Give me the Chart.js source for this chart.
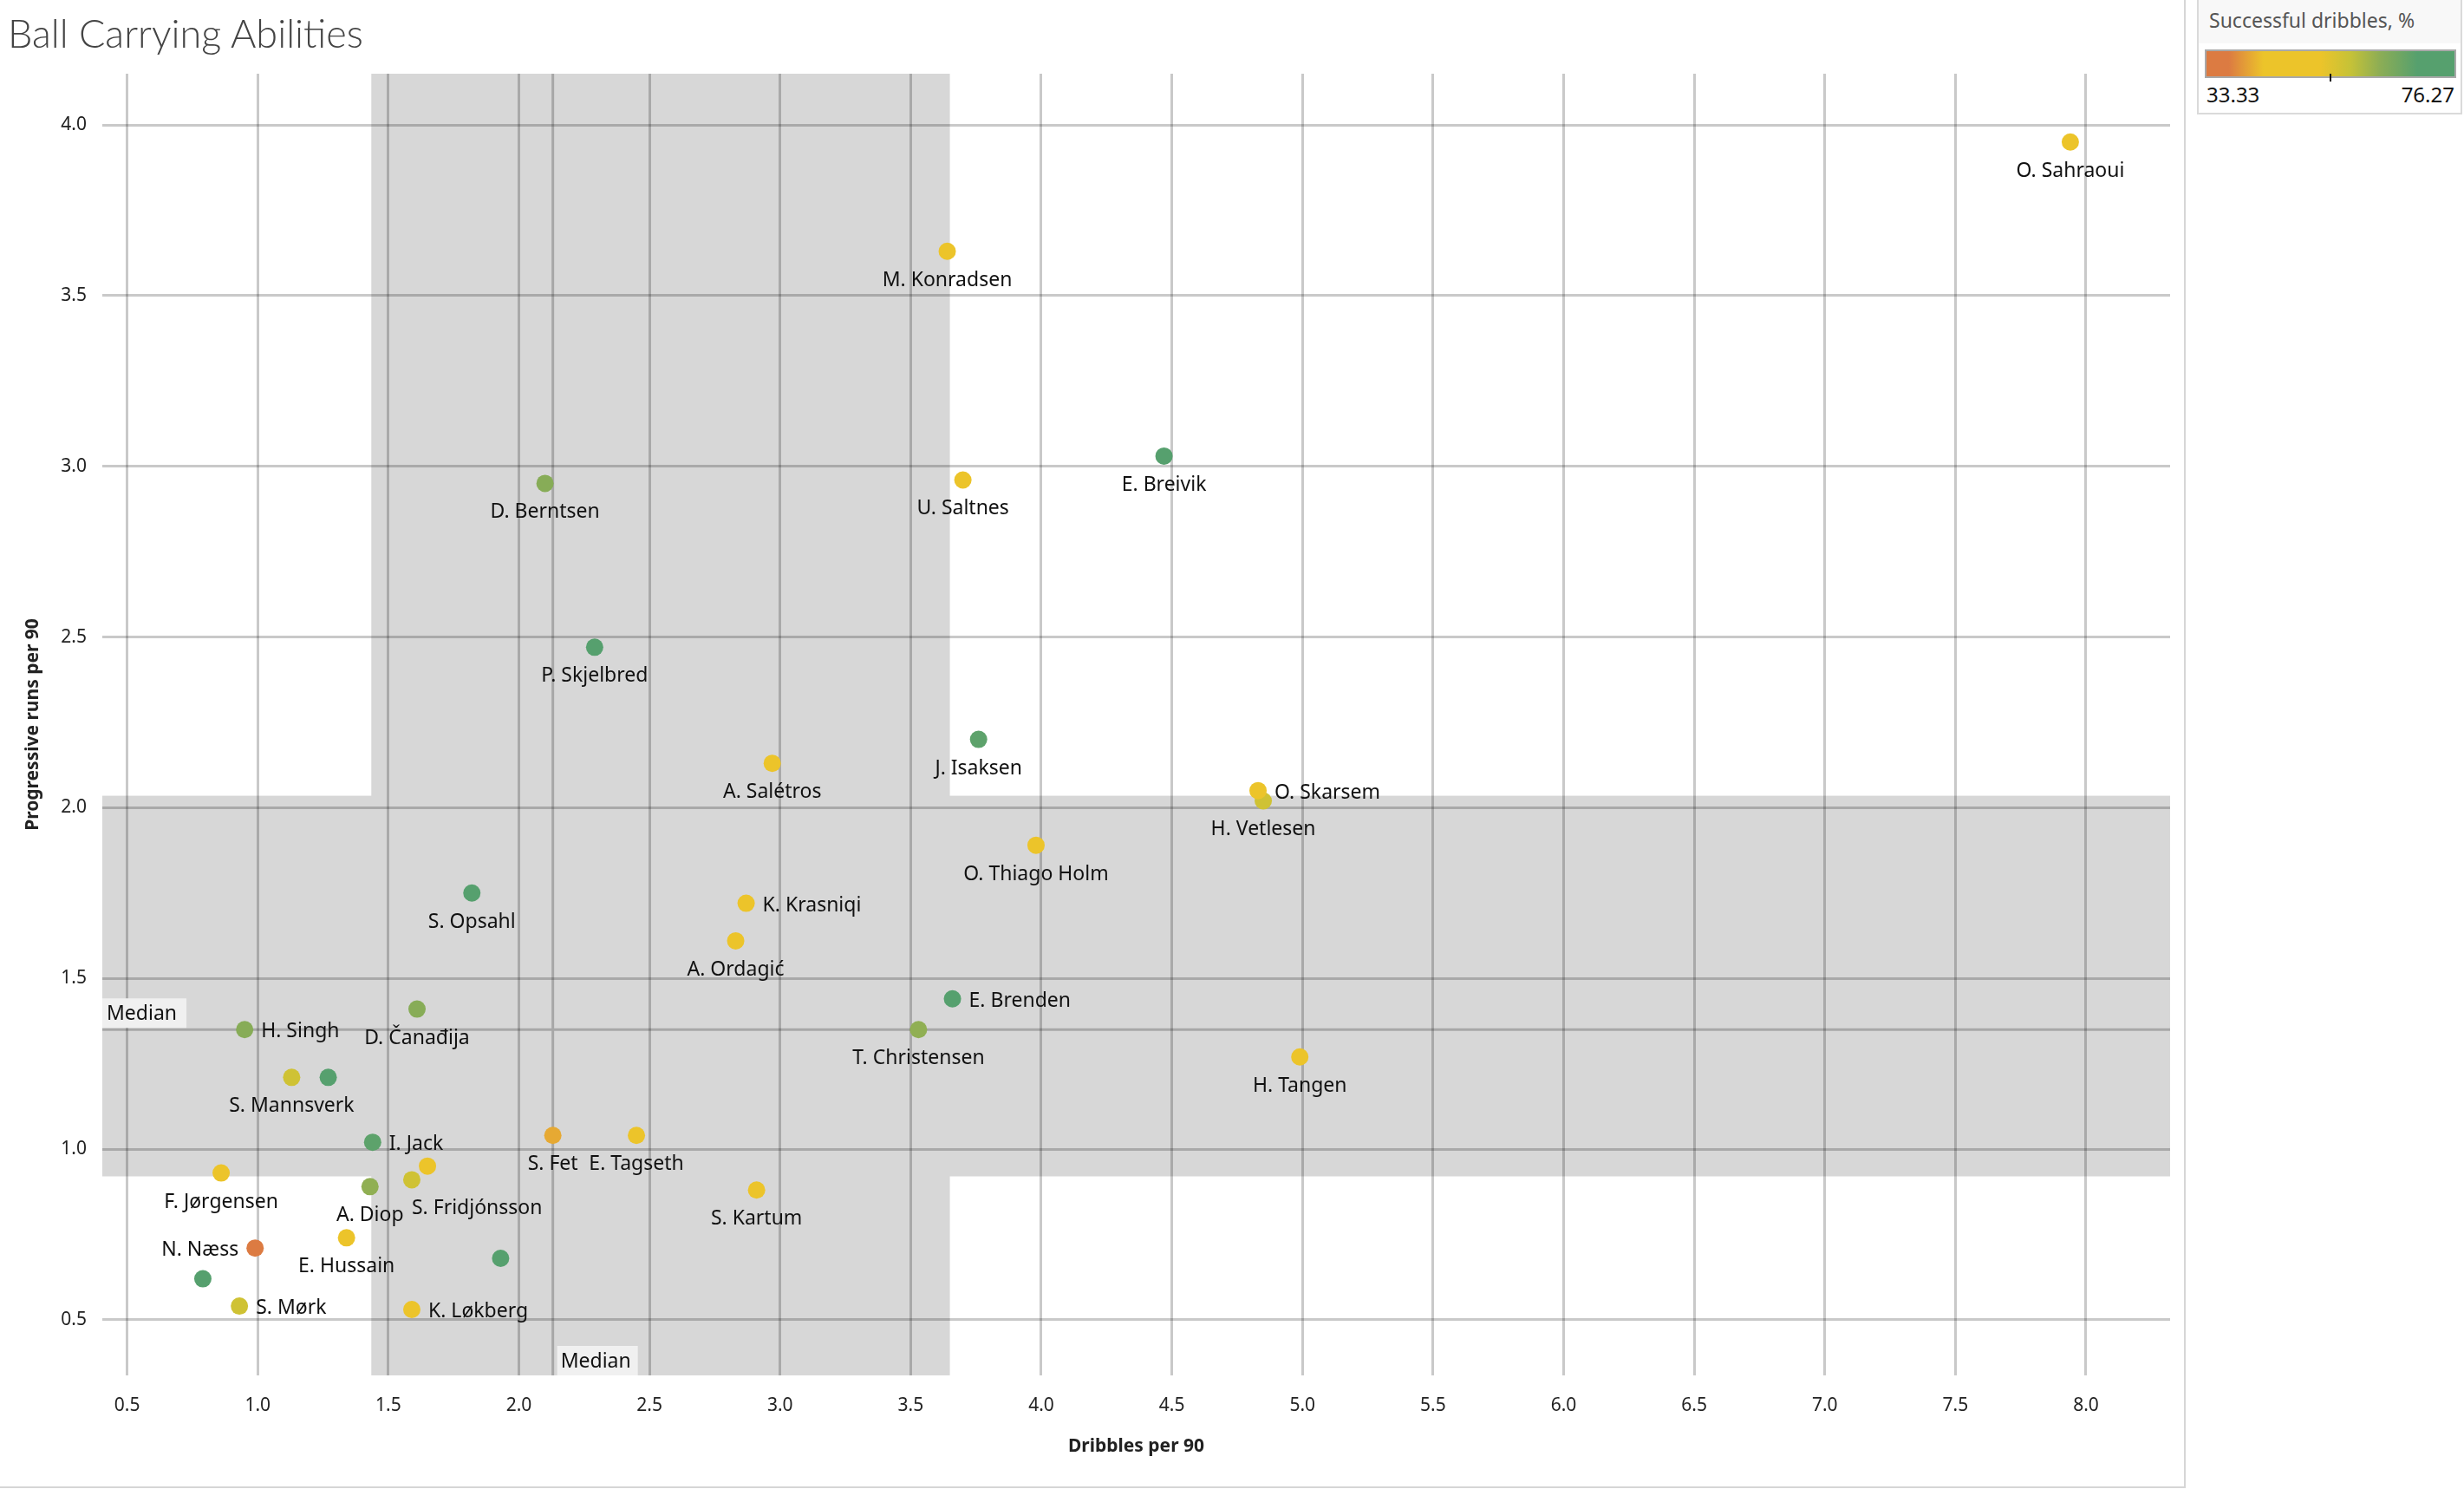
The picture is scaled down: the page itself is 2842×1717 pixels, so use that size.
<!DOCTYPE html>
<html>
<head>
<meta charset="utf-8">
<title>Ball Carrying Abilities</title>
<script src="https://cdn.jsdelivr.net/npm/chart.js@4.4.0/dist/chart.umd.min.js"></script>
<style>
  html, body { margin: 0; padding: 0; background: #fff; }
  body { width: 2842px; height: 1717px; position: relative; overflow: hidden; font-family: "Noto Sans", sans-serif; }
  #chart { position: absolute; left: 0; top: 0; }
  #title { position: absolute; left: 9px; top: 11px; font: 300 45px Lato, "Noto Sans", sans-serif; color: #444; white-space: nowrap; }
  #sheet-right { position: absolute; left: 2519px; top: 0; width: 2px; height: 1716px; background: #d6d6d6; }
  #sheet-bottom { position: absolute; left: 0; top: 1714px; width: 2521px; height: 2px; background: #d6d6d6; }
  #legend { position: absolute; left: 2534px; top: -2px; width: 306px; height: 134px; border: 2px solid #dadada; box-sizing: border-box; background: #fff; }
  #legend-head { position: absolute; left: 0; top: 0; right: 0; height: 50px; background: #f8f8f8; }
  #legend-title { position: absolute; left: 12px; top: 8px; font-size: 23px; line-height: 30px; color: #555; white-space: nowrap; }
  #legend-bar { position: absolute; left: 7px; top: 57px; width: 290px; height: 33px; border: 2px solid #a9a9a9; box-sizing: border-box; }
  #legend-tick { position: absolute; left: 151px; top: 85px; width: 2px; height: 9px; background: #111; }
  .legend-val { position: absolute; top: 94px; font-size: 24px; line-height: 30px; color: #111; }
  #legend-min { left: 9px; }
  #legend-max { right: 7px; }
</style>
</head>
<body>
<canvas id="chart" width="2842" height="1717"></canvas>
<div id="title">Ball Carrying Abilities</div>
<div id="sheet-right"></div>
<div id="sheet-bottom"></div>
<div id="legend">
  <div id="legend-head"></div>
  <div id="legend-title">Successful dribbles, %</div>
  <div id="legend-bar"></div>
  <div id="legend-tick"></div>
  <div class="legend-val" id="legend-min"></div>
  <div class="legend-val" id="legend-max"></div>
</div>
<script>
// data (null name = point without a label)
const players = [
  "O. Sahraoui", "M. Konradsen", "E. Breivik", "U. Saltnes", "D. Berntsen",
  "P. Skjelbred", "J. Isaksen", "A. Salétros", "H. Vetlesen", "O. Skarsem",
  "O. Thiago Holm", "S. Opsahl", "K. Krasniqi", "A. Ordagić", "E. Brenden",
  "D. Čanađija", "T. Christensen", "H. Singh", "H. Tangen", "S. Mannsverk",
  null, "I. Jack", "S. Fet", "E. Tagseth", "F. Jørgensen",
  "A. Diop", "S. Fridjónsson", null, "S. Kartum", "E. Hussain",
  "N. Næss", null, null, "S. Mørk", "K. Løkberg"
];
const dribbles = [
  7.94, 3.64, 4.47, 3.70, 2.10,
  2.29, 3.76, 2.97, 4.85, 4.83,
  3.98, 1.82, 2.87, 2.83, 3.66,
  1.61, 3.53, 0.95, 4.99, 1.13,
  1.27, 1.44, 2.13, 2.45, 0.86,
  1.43, 1.59, 1.65, 2.91, 1.34,
  0.99, 1.93, 0.79, 0.93, 1.59
];
const progRuns = [
  3.95, 3.63, 3.03, 2.96, 2.95,
  2.47, 2.20, 2.13, 2.02, 2.05,
  1.89, 1.75, 1.72, 1.61, 1.44,
  1.41, 1.35, 1.35, 1.27, 1.21,
  1.21, 1.02, 1.04, 1.04, 0.93,
  0.89, 0.91, 0.95, 0.88, 0.74,
  0.71, 0.68, 0.62, 0.54, 0.53
];
const successPct = [
  47, 48, 74, 47, 64,
  72, 69, 48, 57, 46,
  47, 74, 47, 48, 72,
  64, 63, 64, 47, 57,
  76.27, 69, 41, 46, 45,
  63, 57, 47, 47, 46,
  33.33, 73, 75, 57, 46
];
const colorRange = [33.33, 76.27];
const xTicks = [0.5, 1.0, 1.5, 2.0, 2.5, 3.0, 3.5, 4.0, 4.5, 5.0, 5.5, 6.0, 6.5, 7.0, 7.5, 8.0];
const yTicks = [0.5, 1.0, 1.5, 2.0, 2.5, 3.0, 3.5, 4.0];

// label placement (default: centred below the mark)
const labelPlace = {
  "H. Singh": "right", "I. Jack": "right", "K. Krasniqi": "right", "E. Brenden": "right",
  "O. Skarsem": "right", "K. Løkberg": "right", "S. Mørk": "right",
  "N. Næss": "left", "S. Fridjónsson": "belowLeft"
};

const colorStops = [
  [0, '#dc7b42'], [0.09, '#dc7b42'], [0.23, '#ecc42a'], [0.46, '#ecc42a'],
  [0.58, '#c6c237'], [0.70, '#8cad55'], [0.85, '#56a06e'], [1, '#56a06e']
];

function hexToRgb(h) {
  return [parseInt(h.slice(1, 3), 16), parseInt(h.slice(3, 5), 16), parseInt(h.slice(5, 7), 16)];
}
function pctColor(v) {
  const t = Math.min(1, Math.max(0, (v - colorRange[0]) / (colorRange[1] - colorRange[0])));
  for (let i = 1; i < colorStops.length; i++) {
    if (t <= colorStops[i][0]) {
      const [t0, c0] = colorStops[i - 1], [t1, c1] = colorStops[i];
      const f = t1 === t0 ? 0 : (t - t0) / (t1 - t0);
      const a = hexToRgb(c0), b = hexToRgb(c1);
      return 'rgb(' + a.map((c, k) => Math.round(c + (b[k] - c) * f)).join(',') + ')';
    }
  }
  return colorStops[colorStops.length - 1][1];
}
function percentile(arr, p) {
  const s = [...arr].sort((a, b) => a - b);
  const pos = p * (s.length - 1);
  const lo = Math.floor(pos), hi = Math.ceil(pos);
  return s[lo] + (s[hi] - s[lo]) * (pos - lo);
}

const xBand = [percentile(dribbles, 0.25), percentile(dribbles, 0.75)];
const yBand = [percentile(progRuns, 0.25), percentile(progRuns, 0.75)];
const xMedian = percentile(dribbles, 0.5);
const yMedian = percentile(progRuns, 0.5);

// legend
document.getElementById('legend-bar').style.background =
  'linear-gradient(to right, ' + colorStops.map(s => s[1] + ' ' + (s[0] * 100) + '%').join(', ') + ')';
document.getElementById('legend-min').textContent = colorRange[0].toFixed(2);
document.getElementById('legend-max').textContent = colorRange[1].toFixed(2);

const bandsPlugin = {
  id: 'bands',
  beforeDraw(chart) {
    const {ctx, chartArea: a, scales: {x, y}} = chart;
    ctx.save();
    ctx.fillStyle = '#d7d7d7';
    const x1 = x.getPixelForValue(xBand[0]), x2 = x.getPixelForValue(xBand[1]);
    ctx.fillRect(x1, a.top, x2 - x1, a.bottom - a.top);
    const y1 = y.getPixelForValue(yBand[1]), y2 = y.getPixelForValue(yBand[0]);
    ctx.fillRect(a.left, y1, a.right - a.left, y2 - y1);
    ctx.restore();
  },
  beforeDatasetsDraw(chart) {
    const {ctx, chartArea: a, scales: {x, y}} = chart;
    const mx = x.getPixelForValue(xMedian), my = y.getPixelForValue(yMedian);
    ctx.save();
    ctx.strokeStyle = 'rgba(0,0,0,0.22)';
    ctx.lineWidth = 3;
    ctx.beginPath();
    ctx.moveTo(mx, a.top); ctx.lineTo(mx, a.bottom);
    ctx.moveTo(a.left, my); ctx.lineTo(a.right, my);
    ctx.stroke();

    ctx.font = '23px "Noto Sans"';
    ctx.textBaseline = 'middle';
    ctx.textAlign = 'left';
    const w = ctx.measureText('Median').width + 12;
    ctx.fillStyle = '#f0f0f0';
    ctx.fillRect(a.left, my - 36, w + 4, 34);
    ctx.fillRect(mx + 5, a.bottom - 34, w, 34);
    ctx.fillStyle = '#111';
    ctx.fillText('Median', a.left + 5, my - 18);
    ctx.fillText('Median', mx + 9, a.bottom - 16);
    ctx.restore();
  },
  afterDatasetsDraw(chart) {
    const {ctx} = chart;
    const meta = chart.getDatasetMeta(0);
    ctx.save();
    ctx.font = '23px "Noto Sans"';
    ctx.fillStyle = '#111';
    ctx.textBaseline = 'alphabetic';
    meta.data.forEach((pt, i) => {
      const name = players[i];
      if (!name) return;
      const place = labelPlace[name] || 'below';
      if (place === 'right') { ctx.textAlign = 'left'; ctx.fillText(name, pt.x + 19, pt.y + 9); }
      else if (place === 'left') { ctx.textAlign = 'right'; ctx.fillText(name, pt.x - 19, pt.y + 9); }
      else if (place === 'belowLeft') { ctx.textAlign = 'left'; ctx.fillText(name, pt.x, pt.y + 40); }
      else { ctx.textAlign = 'center'; ctx.fillText(name, pt.x, pt.y + 40); }
    });
    ctx.restore();
  }
};

const tickFont = {family: 'Noto Sans', size: 21};
const titleFont = {family: 'Noto Sans', size: 21, weight: 'bold'};

new Chart('chart', {
  type: 'scatter',
  data: {
    datasets: [{
      data: dribbles.map((d, i) => ({x: d, y: progRuns[i]})),
      backgroundColor: successPct.map(pctColor),
      pointRadius: 10,
      pointHoverRadius: 10,
      borderWidth: 0
    }]
  },
  options: {
    responsive: false,
    animation: false,
    layout: {padding: {top: 85, right: 339, left: 0, bottom: 0}},
    plugins: {legend: {display: false}, tooltip: {enabled: false}},
    scales: {
      x: {
        type: 'linear', min: 0.405, max: 8.322,
        afterBuildTicks: s => { s.ticks = xTicks.map(v => ({value: v})); },
        afterFit: s => { s.height = 131; },
        grid: {color: 'rgba(0,0,0,0.21)', lineWidth: 3, drawTicks: false},
        border: {display: false},
        ticks: {font: tickFont, color: '#222', padding: 22, maxRotation: 0, callback: v => v.toFixed(1)},
        title: {display: true, text: 'Dribbles per 90', font: titleFont, color: '#222', padding: {top: 0, bottom: 36}}
      },
      y: {
        type: 'linear', min: 0.337, max: 4.15,
        afterBuildTicks: s => { s.ticks = yTicks.map(v => ({value: v})); },
        afterFit: s => { s.width = 118; },
        grid: {color: 'rgba(0,0,0,0.21)', lineWidth: 3, drawTicks: false},
        border: {display: false},
        ticks: {font: tickFont, color: '#222', padding: 18, callback: v => v.toFixed(1)},
        title: {display: true, text: 'Progressive runs per 90', font: titleFont, color: '#222', padding: {top: 25, bottom: 0}}
      }
    }
  },
  plugins: [bandsPlugin]
});
</script>
</body>
</html>
